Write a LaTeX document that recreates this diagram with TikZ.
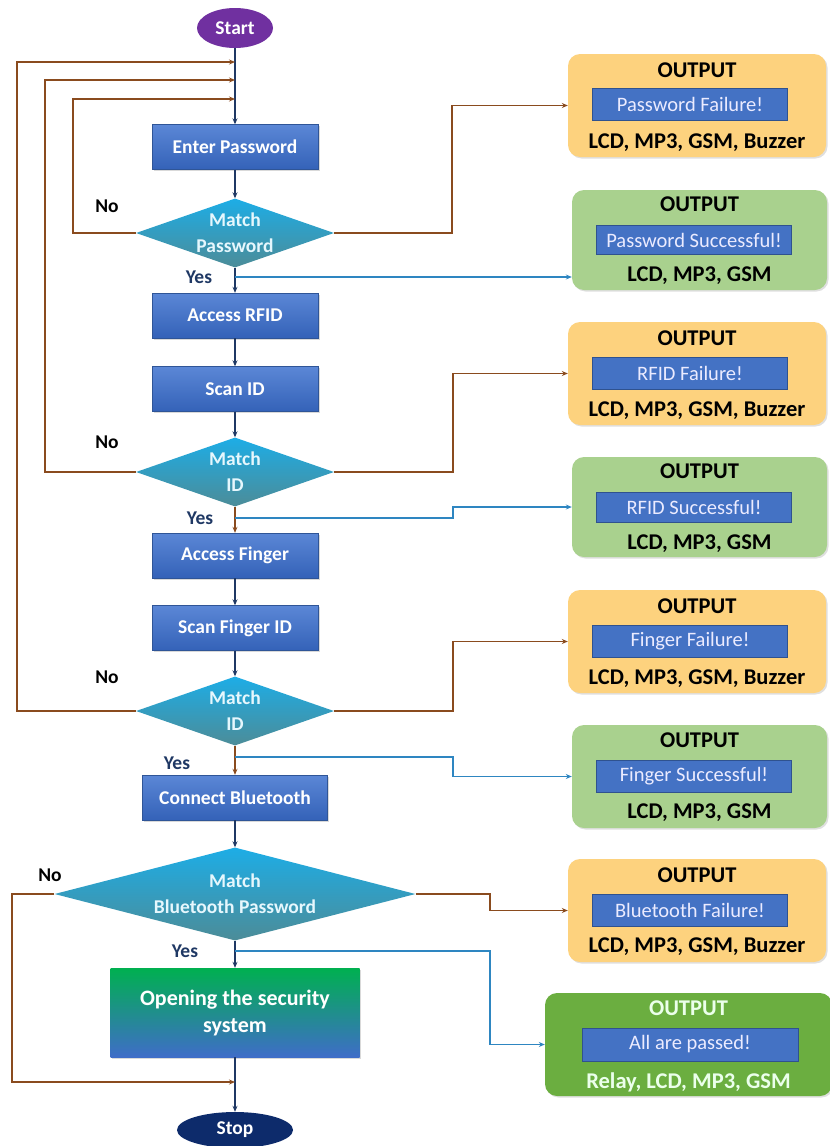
\documentclass[tikz,border=0pt]{standalone}
\usepackage{fontspec}
\setmainfont{Carlito}
\usetikzlibrary{shapes.geometric,arrows.meta,shadows}

\definecolor{proctop}{HTML}{5B87D6}
\definecolor{procbot}{HTML}{3462B8}
\definecolor{procedge}{HTML}{2F5597}
\definecolor{dectop}{HTML}{1DADE6}
\definecolor{decbot}{HTML}{4C8C98}
\definecolor{startpurple}{HTML}{7030A0}
\definecolor{stopnavy}{HTML}{0D2B6B}
\definecolor{navyline}{HTML}{1F3864}
\definecolor{brownline}{HTML}{8A4B1E}
\definecolor{blueline}{HTML}{2E86C1}
\definecolor{outorange}{HTML}{FDD27E}
\definecolor{outgreen}{HTML}{A9D18E}
\definecolor{outdkgreen}{HTML}{6BAE40}
\definecolor{msgblue}{HTML}{4472C4}
\definecolor{msgedge}{HTML}{2F528F}
\definecolor{opengreen}{HTML}{00B050}
\definecolor{openblue}{HTML}{3F6DC8}

\newcommand{\boxfont}{\bfseries\fontsize{19.5}{26}\selectfont}
\newcommand{\outfont}{\bfseries\fontsize{22.5}{26}\selectfont}
\newcommand{\msgfont}{\fontsize{20.5}{24}\selectfont}
\newcommand{\openfont}{\bfseries\fontsize{22}{27}\selectfont}

\begin{document}
\begin{tikzpicture}[x=1pt,y=-1pt,>={Stealth[length=6pt,width=5pt]},
    proc/.style={rectangle,draw=procedge,top color=proctop,bottom color=procbot,text=white,font=\boxfont,
        minimum width=166pt,minimum height=45pt,inner sep=0pt,drop shadow={shadow xshift=1.5pt,shadow yshift=-1.5pt,opacity=0.3}},
    decide/.style={diamond,top color=dectop,bottom color=decbot,draw=none,inner sep=0pt,minimum width=198pt,minimum height=69pt},
    dtext/.style={text=white!90!cyan,font=\boxfont,align=center,inner sep=0pt},
    term/.style={ellipse,text=white,font=\boxfont,inner sep=0pt},
    opening/.style={rectangle,top color=opengreen,middle color=opengreen!80!openblue,bottom color=openblue,text=white,
        font=\openfont,align=center,minimum width=249pt,minimum height=89pt,inner sep=0pt,
        drop shadow={shadow xshift=1.5pt,shadow yshift=-1.5pt,opacity=0.3}},
    outbox/.style={rectangle,rounded corners=12pt,minimum width=258pt,minimum height=103pt,inner sep=0pt,
        drop shadow={shadow xshift=1.5pt,shadow yshift=-1.5pt,opacity=0.25}},
    outtitle/.style={font=\outfont,inner sep=0pt},
    msgbox/.style={rectangle,fill=msgblue,draw=msgedge,text=white!92!blue,font=\msgfont,minimum width=195pt,minimum height=32pt,inner sep=0pt},
    yeslbl/.style={text=navyline,font=\boxfont,inner sep=0pt},
    nolbl/.style={text=black,font=\boxfont,inner sep=0pt},
    mainline/.style={draw=navyline,line width=1.6pt},
    failline/.style={draw=brownline,line width=1.6pt},
    okline/.style={draw=blueline,line width=1.4pt}]
    \useasboundingbox (0,0) rectangle (830,1146);

    % flow
    \node (start) [term,fill=startpurple,minimum width=76pt,minimum height=40pt] at (235,28) {Start};
    \node (enterpw) [proc] at (235,147) {Enter Password};
    \node (matchpw) [decide] at (235,233) {};
    \node (matchpwtext) [dtext] at (matchpw) {Match\\Password};
    \node (accrfid) [proc] at (235,315.5) {Access RFID};
    \node (scanid) [proc] at (235,389) {Scan ID};
    \node (matchid) [decide] at (235,472) {};
    \node (matchidtext) [dtext] at (matchid) {Match\\ID};
    \node (accfinger) [proc] at (235,555.5) {Access Finger};
    \node (scanfinger) [proc] at (235,628) {Scan Finger ID};
    \node (matchfinger) [decide] at (235,711) {};
    \node (matchfingertext) [dtext] at (matchfinger) {Match\\ID};
    \node (connbt) [proc,minimum width=185pt] at (235,797.5) {Connect Bluetooth};
    \node (matchbt) [decide,minimum width=361pt,minimum height=93pt] at (235,894) {};
    \node (matchbttext) [dtext] at (matchbt) {Match\\Bluetooth Password};
    \node (opensys) [opening] at (235,1012.5) {Opening the security\\system};
    \node (stop) [term,fill=stopnavy,minimum width=116pt,minimum height=36pt] at (235,1130) {Stop};

    % yes / no
    \node (yes1lbl) [yeslbl] at (199,277) {Yes};
    \node (yes2lbl) [yeslbl] at (200,518) {Yes};
    \node (yes3lbl) [yeslbl] at (177,763) {Yes};
    \node (yes4lbl) [yeslbl] at (185,951) {Yes};
    \node (no1lbl) [nolbl] at (107,206) {No};
    \node (no2lbl) [nolbl] at (107,442) {No};
    \node (no3lbl) [nolbl] at (107,677) {No};
    \node (no4lbl) [nolbl] at (50,875) {No};

    % outputs
    \node (pwfail) [outbox,fill=outorange] at (697,105.5) {};
    \node (pwfailtitle) [outtitle] at (697,70) {OUTPUT};
    \node (pwfailmsg) [msgbox] at (690,104.5) {Password Failure!};
    \node (pwfaildev) [outtitle] at (697,143) {LCD, MP3, GSM, Buzzer};

    \node (pwok) [outbox,fill=outgreen,minimum width=255pt,minimum height=100pt] at (699.5,240) {};
    \node (pwoktitle) [outtitle] at (699.5,204) {OUTPUT};
    \node (pwokmsg) [msgbox,minimum height=29pt] at (694,240) {Password Successful!};
    \node (pwokdev) [outtitle] at (699.5,276) {LCD, MP3, GSM};

    \node (rfidfail) [outbox,fill=outorange] at (697,373.5) {};
    \node (rfidfailtitle) [outtitle] at (697,338) {OUTPUT};
    \node (rfidfailmsg) [msgbox] at (690,373.5) {RFID Failure!};
    \node (rfidfaildev) [outtitle] at (697,411) {LCD, MP3, GSM, Buzzer};

    \node (rfidok) [outbox,fill=outgreen,minimum width=255pt,minimum height=100pt] at (699.5,507) {};
    \node (rfidoktitle) [outtitle] at (699.5,471) {OUTPUT};
    \node (rfidokmsg) [msgbox,minimum height=30pt] at (694,507) {RFID Successful!};
    \node (rfidokdev) [outtitle] at (699.5,544) {LCD, MP3, GSM};

    \node (fingerfail) [outbox,fill=outorange] at (697,641.5) {};
    \node (fingerfailtitle) [outtitle] at (697,606) {OUTPUT};
    \node (fingerfailmsg) [msgbox] at (690,641.5) {Finger Failure!};
    \node (fingerfaildev) [outtitle] at (697,679) {LCD, MP3, GSM, Buzzer};

    \node (fingerok) [outbox,fill=outgreen,minimum width=255pt] at (699.5,776.5) {};
    \node (fingeroktitle) [outtitle] at (699.5,740) {OUTPUT};
    \node (fingerokmsg) [msgbox] at (694,776) {Finger Successful!};
    \node (fingerokdev) [outtitle] at (699.5,813) {LCD, MP3, GSM};

    \node (btfail) [outbox,fill=outorange] at (697,910.5) {};
    \node (btfailtitle) [outtitle] at (697,875) {OUTPUT};
    \node (btfailmsg) [msgbox] at (690,910) {Bluetooth Failure!};
    \node (btfaildev) [outtitle] at (697,947) {LCD, MP3, GSM, Buzzer};

    \node (allok) [outbox,fill=outdkgreen,minimum width=287pt] at (688.5,1044.5) {};
    \node (alloktitle) [outtitle,text=white!92!green] at (688.5,1008) {OUTPUT};
    \node (allokmsg) [msgbox,minimum width=216pt,minimum height=33pt] at (690,1044.5) {All are passed!};
    \node (allokdev) [outtitle,text=white!92!green] at (688.5,1082) {Relay, LCD, MP3, GSM};

    % main line
    \draw [mainline,->] (start) -- (enterpw);
    \draw [mainline,->] (enterpw) -- (matchpw);
    \draw [mainline,->] (matchpw) -- (accrfid);
    \draw [mainline,->] (accrfid) -- (scanid);
    \draw [mainline,->] (scanid) -- (matchid);
    \draw [failline,->] (matchid) -- (accfinger);
    \draw [mainline,->] (accfinger) -- (scanfinger);
    \draw [mainline,->] (scanfinger) -- (matchfinger);
    \draw [failline,->] (matchfinger) -- (connbt);
    \draw [mainline,->] (connbt) -- (matchbt);
    \draw [mainline,->] (matchbt) -- (opensys);
    \draw [mainline,->] (opensys) -- (stop);

    % retry loops
    \coordinate (in1) at (235,62);
    \coordinate (in2) at (235,80);
    \coordinate (in3) at (235,99);
    \coordinate (in4) at (235,1082);
    \draw [failline,->] (matchfinger.west) -| ([xshift=-218pt]in1) -- (in1);
    \draw [failline,->] (matchid.west) -| ([xshift=-190pt]in2) -- (in2);
    \draw [failline,->] (matchpw.west) -| ([xshift=-162pt]in3) -- (in3);
    \draw [failline,->] (matchbt.west) -| ([xshift=-223pt]in4) -- (in4);

    % failure outputs
    \draw [failline,->] (matchpw.east) -| ([xshift=-116pt]pwfail.west) -- (pwfail.west);
    \draw [failline,->] (matchid.east) -| ([xshift=-115pt]rfidfail.west) -- (rfidfail.west);
    \draw [failline,->] (matchfinger.east) -| ([xshift=-115pt]fingerfail.west) -- (fingerfail.west);
    \draw [failline,->] (matchbt.east) -| ([xshift=-78pt]btfail.west) -- (btfail.west);

    % success outputs
    \coordinate (yes1) at (235,277);
    \coordinate (yes2) at (235,518);
    \coordinate (yes3) at (235,757);
    \coordinate (yes4) at (235,951);
    \draw [okline,->] (yes1) -- (yes1 -| pwok.west);
    \draw [okline,->] (yes2) -| ([xshift=-119pt]rfidok.west) -- (rfidok.west);
    \draw [okline,->] (yes3) -| ([xshift=-119pt]fingerok.west) -- (fingerok.west);
    \draw [okline,->] (yes4) -| ([xshift=-55pt]allok.west) -- (allok.west);
\end{tikzpicture}
\end{document}
